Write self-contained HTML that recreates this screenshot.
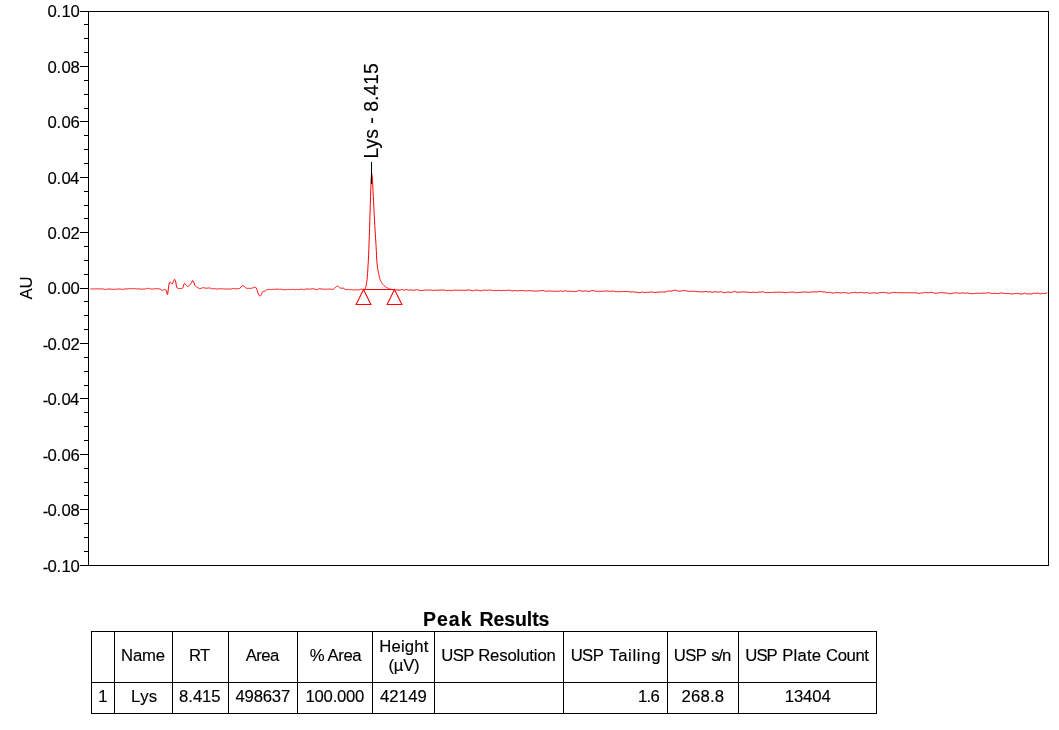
<!DOCTYPE html>
<html lang="en"><head><meta charset="utf-8"><title>Peak Results</title>
<style>
html,body{margin:0;padding:0;background:#fff;}
body{width:1059px;height:730px;position:relative;overflow:hidden;font-family:"Liberation Sans",sans-serif;}
svg text.t{font-family:"Liberation Sans",sans-serif;fill:#000;stroke:#000;}
</style></head><body>
<svg width="1059" height="730" viewBox="0 0 1059 730" style="position:absolute;left:0;top:0">
<g fill="#000" shape-rendering="crispEdges">
<rect x="88" y="11" width="961" height="1"/>
<rect x="88" y="565" width="961" height="1"/>
<rect x="88" y="11" width="1" height="555"/>
<rect x="1048" y="11" width="1" height="555"/>
<rect x="80" y="11" width="8" height="1"/>
<rect x="84" y="24" width="4" height="1"/>
<rect x="84" y="38" width="4" height="1"/>
<rect x="84" y="52" width="4" height="1"/>
<rect x="80" y="66" width="8" height="1"/>
<rect x="84" y="80" width="4" height="1"/>
<rect x="84" y="94" width="4" height="1"/>
<rect x="84" y="108" width="4" height="1"/>
<rect x="80" y="121" width="8" height="1"/>
<rect x="84" y="135" width="4" height="1"/>
<rect x="84" y="149" width="4" height="1"/>
<rect x="84" y="163" width="4" height="1"/>
<rect x="80" y="177" width="8" height="1"/>
<rect x="84" y="191" width="4" height="1"/>
<rect x="84" y="205" width="4" height="1"/>
<rect x="84" y="218" width="4" height="1"/>
<rect x="80" y="232" width="8" height="1"/>
<rect x="84" y="246" width="4" height="1"/>
<rect x="84" y="260" width="4" height="1"/>
<rect x="84" y="274" width="4" height="1"/>
<rect x="80" y="288" width="8" height="1"/>
<rect x="84" y="301" width="4" height="1"/>
<rect x="84" y="315" width="4" height="1"/>
<rect x="84" y="329" width="4" height="1"/>
<rect x="80" y="343" width="8" height="1"/>
<rect x="84" y="357" width="4" height="1"/>
<rect x="84" y="371" width="4" height="1"/>
<rect x="84" y="385" width="4" height="1"/>
<rect x="80" y="398" width="8" height="1"/>
<rect x="84" y="412" width="4" height="1"/>
<rect x="84" y="426" width="4" height="1"/>
<rect x="84" y="440" width="4" height="1"/>
<rect x="80" y="454" width="8" height="1"/>
<rect x="84" y="468" width="4" height="1"/>
<rect x="84" y="482" width="4" height="1"/>
<rect x="84" y="495" width="4" height="1"/>
<rect x="80" y="509" width="8" height="1"/>
<rect x="84" y="523" width="4" height="1"/>
<rect x="84" y="537" width="4" height="1"/>
<rect x="84" y="551" width="4" height="1"/>
<rect x="80" y="565" width="8" height="1"/>
</g>
<text class="t" font-size="16.7" fill="#000" stroke="#000" stroke-width="0.15" x="47.45 56.4 61.55 70.45" y="17">0.10</text>
<text class="t" font-size="16.7" fill="#000" stroke="#000" stroke-width="0.15" x="47.45 56.4 61.55 70.45" y="73">0.08</text>
<text class="t" font-size="16.7" fill="#000" stroke="#000" stroke-width="0.15" x="47.45 56.4 61.55 70.45" y="128">0.06</text>
<text class="t" font-size="16.7" fill="#000" stroke="#000" stroke-width="0.15" x="47.45 56.4 61.55 70.1" y="184">0.04</text>
<text class="t" font-size="16.7" fill="#000" stroke="#000" stroke-width="0.15" x="47.45 56.4 61.55 70.45" y="239">0.02</text>
<text class="t" font-size="16.7" fill="#000" stroke="#000" stroke-width="0.15" x="47.45 56.4 61.55 70.45" y="294">0.00</text>
<text class="t" font-size="16.7" fill="#000" stroke="#000" stroke-width="0.15" x="42.65" y="351.3">-</text>
<text class="t" font-size="16.7" fill="#000" stroke="#000" stroke-width="0.15" x="47.45 56.4 61.55 70.45" y="350">0.02</text>
<text class="t" font-size="16.7" fill="#000" stroke="#000" stroke-width="0.15" x="42.65" y="406.3">-</text>
<text class="t" font-size="16.7" fill="#000" stroke="#000" stroke-width="0.15" x="47.45 56.4 61.55 70.1" y="405">0.04</text>
<text class="t" font-size="16.7" fill="#000" stroke="#000" stroke-width="0.15" x="42.65" y="462.3">-</text>
<text class="t" font-size="16.7" fill="#000" stroke="#000" stroke-width="0.15" x="47.45 56.4 61.55 70.45" y="461">0.06</text>
<text class="t" font-size="16.7" fill="#000" stroke="#000" stroke-width="0.15" x="42.65" y="517.3">-</text>
<text class="t" font-size="16.7" fill="#000" stroke="#000" stroke-width="0.15" x="47.45 56.4 61.55 70.45" y="516">0.08</text>
<text class="t" font-size="16.7" fill="#000" stroke="#000" stroke-width="0.15" x="42.65" y="573.3">-</text>
<text class="t" font-size="16.7" fill="#000" stroke="#000" stroke-width="0.15" x="47.45 56.4 61.55 70.45" y="572">0.10</text>
<text class="t" font-size="16.7" letter-spacing="-0.166" fill="#000" stroke="#000" stroke-width="0.15" x="121.04" y="660.70">Name</text>
<text class="t" font-size="16.7" letter-spacing="-0.616" fill="#000" stroke="#000" stroke-width="0.15" x="188.91" y="660.70">RT</text>
<text class="t" font-size="16.7" letter-spacing="-0.611" fill="#000" stroke="#000" stroke-width="0.15" x="245.75" y="660.70">Area</text>
<text class="t" font-size="16.7" letter-spacing="-0.403" fill="#000" stroke="#000" stroke-width="0.15" x="309.87" y="660.70">% Area</text>
<text class="t" font-size="16.7" letter-spacing="0.147" fill="#000" stroke="#000" stroke-width="0.15" x="379.32" y="651.80">Height</text>
<text class="t" font-size="16.7" letter-spacing="-0.269" fill="#000" stroke="#000" stroke-width="0.15" x="388.52" y="670.90">(µV)</text>
<text class="t" font-size="16.7" letter-spacing="-0.564" fill="#000" stroke="#000" stroke-width="0.15" x="441.24" y="660.70">USP</text>
<text class="t" font-size="16.7" letter-spacing="-0.134" fill="#000" stroke="#000" stroke-width="0.15" x="478.21" y="660.70">Resolution</text>
<text class="t" font-size="16.7" letter-spacing="-0.564" fill="#000" stroke="#000" stroke-width="0.15" x="570.64" y="660.70">USP</text>
<text class="t" font-size="16.7" letter-spacing="0.659" fill="#000" stroke="#000" stroke-width="0.15" x="609.16" y="660.70">Tailing</text>
<text class="t" font-size="16.7" letter-spacing="-0.564" fill="#000" stroke="#000" stroke-width="0.15" x="673.74" y="660.70">USP</text>
<text class="t" font-size="16.7" letter-spacing="-1.040" fill="#000" stroke="#000" stroke-width="0.15" x="711.16" y="660.70">s/n</text>
<text class="t" font-size="16.7" letter-spacing="-0.964" fill="#000" stroke="#000" stroke-width="0.15" x="745.34" y="660.70">USP</text>
<text class="t" font-size="16.7" letter-spacing="0.186" fill="#000" stroke="#000" stroke-width="0.15" x="782.31" y="660.70">Plate</text>
<text class="t" font-size="16.7" letter-spacing="-0.385" fill="#000" stroke="#000" stroke-width="0.15" x="825.98" y="660.70">Count</text>
<text class="t" font-size="16.7" fill="#000" stroke="#000" stroke-width="0.15" x="98.24" y="701.90">1</text>
<text class="t" font-size="16.7" letter-spacing="0.377" fill="#000" stroke="#000" stroke-width="0.15" x="131.12" y="701.90">Lys</text>
<text class="t" font-size="16.7" letter-spacing="-0.064" fill="#000" stroke="#000" stroke-width="0.15" x="179.11" y="701.90">8.415</text>
<text class="t" font-size="16.7" letter-spacing="-0.175" fill="#000" stroke="#000" stroke-width="0.15" x="235.45" y="701.90">498637</text>
<text class="t" font-size="16.7" letter-spacing="-0.263" fill="#000" stroke="#000" stroke-width="0.15" x="305.59" y="701.90">100.000</text>
<text class="t" font-size="16.7" letter-spacing="0.120" fill="#000" stroke="#000" stroke-width="0.15" x="379.95" y="701.90">42149</text>
<text class="t" font-size="16.7" letter-spacing="-0.738" fill="#000" stroke="#000" stroke-width="0.15" x="638.09" y="701.90">1.6</text>
<text class="t" font-size="16.7" letter-spacing="0.184" fill="#000" stroke="#000" stroke-width="0.15" x="681.49" y="701.90">268.8</text>
<text class="t" font-size="16.7" letter-spacing="-0.081" fill="#000" stroke="#000" stroke-width="0.15" x="784.69" y="701.90">13404</text>
<text class="t" font-size="19.5" font-weight="bold" letter-spacing="1.000" fill="#000" stroke="#000" stroke-width="0.15" x="422.94" y="625.60">Peak</text>
<text class="t" font-size="19.5" font-weight="bold" letter-spacing="-0.090" fill="#000" stroke="#000" stroke-width="0.15" x="479.54" y="625.60">Results</text>
<text class="t" font-size="16.7" fill="#000" stroke="#000" stroke-width="0.15" text-anchor="middle" transform="translate(32.3,288.0) rotate(-90)">AU</text>
<text class="t" font-size="19.3" letter-spacing="0.06" fill="#000" stroke="#000" stroke-width="0.15" transform="translate(378.3,158.6) rotate(-90)">Lys - 8.415</text>
<path d="M90.30,288.90 L90.80,288.93 L91.30,288.97 L91.80,289.00 L92.30,289.04 L92.80,289.03 L93.30,289.01 L93.80,288.98 L94.30,288.95 L94.80,288.92 L95.30,288.88 L95.80,288.85 L96.30,288.82 L96.80,288.78 L97.30,288.81 L97.80,288.85 L98.30,288.88 L98.80,288.92 L99.30,288.93 L99.80,288.90 L100.30,288.86 L100.80,288.83 L101.30,288.79 L101.80,288.87 L102.30,288.96 L102.80,289.04 L103.30,289.12 L103.80,289.21 L104.30,289.30 L104.80,289.40 L105.30,289.50 L105.80,289.55 L106.30,289.42 L106.80,289.29 L107.30,289.16 L107.80,289.03 L108.30,289.00 L108.80,288.99 L109.30,288.98 L109.80,288.98 L110.30,289.01 L110.80,289.09 L111.30,289.17 L111.80,289.26 L112.30,289.34 L112.80,289.33 L113.30,289.32 L113.80,289.32 L114.30,289.31 L114.80,289.30 L115.30,289.28 L115.80,289.26 L116.30,289.24 L116.80,289.22 L117.30,289.14 L117.80,289.07 L118.30,288.99 L118.80,288.92 L119.30,288.95 L119.80,289.02 L120.30,289.09 L120.80,289.15 L121.30,289.21 L121.80,289.26 L122.30,289.31 L122.80,289.37 L123.30,289.42 L123.80,289.27 L124.30,289.12 L124.80,288.97 L125.30,288.82 L125.80,288.80 L126.30,288.86 L126.80,288.92 L127.30,288.98 L127.80,289.01 L128.30,288.90 L128.80,288.79 L129.30,288.69 L129.80,288.58 L130.30,288.59 L130.80,288.63 L131.30,288.67 L131.80,288.71 L132.30,288.72 L132.80,288.68 L133.30,288.63 L133.80,288.59 L134.30,288.55 L134.80,288.66 L135.30,288.77 L135.80,288.89 L136.30,289.00 L136.80,289.00 L137.30,288.92 L137.80,288.84 L138.30,288.76 L138.80,288.72 L139.30,288.83 L139.80,288.94 L140.30,289.05 L140.80,289.16 L141.30,289.17 L141.80,289.16 L142.30,289.15 L142.80,289.14 L143.30,289.12 L143.80,289.09 L144.30,289.06 L144.80,289.03 L145.30,289.00 L145.80,288.83 L146.30,288.65 L146.80,288.48 L147.30,288.30 L147.80,288.32 L148.30,288.46 L148.80,288.60 L149.30,288.74 L149.80,288.86 L150.30,288.89 L150.80,288.92 L151.30,288.95 L151.80,288.99 L152.30,289.00 L152.80,289.01 L153.30,289.02 L153.80,289.03 L154.30,288.99 L154.80,288.87 L155.30,288.75 L155.80,288.63 L156.30,288.51 L156.80,288.59 L157.30,288.66 L157.80,288.74 L158.30,288.84 L158.80,288.90 L159.30,288.93 L159.80,288.93 L160.30,289.14 L160.80,289.59 L161.30,290.06 L161.80,290.27 L162.30,290.24 L162.80,290.13 L163.30,290.01 L163.80,289.91 L164.30,289.72 L164.80,289.55 L165.30,289.51 L165.80,289.94 L166.30,290.70 L166.80,292.52 L167.30,294.54 L167.80,293.66 L168.30,289.10 L168.80,285.48 L169.30,282.90 L169.80,282.35 L170.30,282.20 L170.80,282.58 L171.30,283.34 L171.80,283.93 L172.30,283.77 L172.80,282.74 L173.30,281.60 L173.80,280.46 L174.30,279.51 L174.80,279.58 L175.30,280.50 L175.80,282.02 L176.30,285.75 L176.80,287.33 L177.30,288.06 L177.80,288.32 L178.30,288.40 L178.80,288.45 L179.30,288.50 L179.80,288.52 L180.30,288.52 L180.80,288.49 L181.30,288.48 L181.80,288.45 L182.30,288.42 L182.80,287.87 L183.30,286.20 L183.80,284.71 L184.30,283.54 L184.80,283.51 L185.30,284.00 L185.80,284.60 L186.30,285.14 L186.80,285.76 L187.30,286.31 L187.80,286.59 L188.30,286.40 L188.80,285.78 L189.30,285.05 L189.80,284.52 L190.30,284.15 L190.80,283.79 L191.30,283.30 L191.80,282.24 L192.30,280.96 L192.80,280.52 L193.30,281.14 L193.80,282.20 L194.30,284.05 L194.80,285.43 L195.30,285.98 L195.80,286.37 L196.30,286.66 L196.80,286.94 L197.30,287.25 L197.80,287.59 L198.30,287.93 L198.80,288.22 L199.30,288.44 L199.80,288.51 L200.30,288.48 L200.80,288.44 L201.30,288.38 L201.80,288.25 L202.30,287.91 L202.80,287.60 L203.30,287.53 L203.80,287.69 L204.30,287.93 L204.80,288.12 L205.30,288.15 L205.80,288.18 L206.30,288.21 L206.80,288.24 L207.30,288.19 L207.80,288.12 L208.30,288.05 L208.80,287.99 L209.30,287.98 L209.80,288.02 L210.30,288.09 L210.80,288.28 L211.30,288.55 L211.80,288.73 L212.30,288.84 L212.80,288.82 L213.30,288.75 L213.80,288.70 L214.30,288.70 L214.80,288.72 L215.30,288.77 L215.80,288.82 L216.30,288.89 L216.80,288.96 L217.30,289.02 L217.80,289.09 L218.30,289.00 L218.80,288.87 L219.30,288.74 L219.80,288.61 L220.30,288.57 L220.80,288.66 L221.30,288.75 L221.80,288.84 L222.30,288.92 L222.80,288.90 L223.30,288.88 L223.80,288.86 L224.30,288.84 L224.80,288.87 L225.30,288.94 L225.80,289.01 L226.30,289.08 L226.80,289.13 L227.30,289.08 L227.80,289.02 L228.30,288.96 L228.80,288.91 L229.30,288.98 L229.80,289.08 L230.30,289.14 L230.80,289.17 L231.30,289.00 L231.80,288.72 L232.30,288.54 L232.80,288.52 L233.30,288.51 L233.80,288.55 L234.30,288.61 L234.80,288.69 L235.30,288.76 L235.80,288.80 L236.30,288.82 L236.80,288.83 L237.30,288.85 L237.80,288.81 L238.30,288.58 L238.80,288.50 L239.30,288.49 L239.80,288.48 L240.30,288.02 L240.80,287.24 L241.30,286.58 L241.80,286.22 L242.30,285.95 L242.80,285.91 L243.30,285.98 L243.80,286.13 L244.30,286.32 L244.80,286.64 L245.30,287.34 L245.80,288.04 L246.30,288.30 L246.80,288.33 L247.30,288.32 L247.80,288.22 L248.30,288.24 L248.80,288.34 L249.30,288.39 L249.80,288.43 L250.30,288.46 L250.80,288.45 L251.30,288.34 L251.80,288.15 L252.30,287.95 L252.80,287.82 L253.30,287.75 L253.80,287.58 L254.30,287.42 L254.80,287.35 L255.30,287.31 L255.80,287.39 L256.30,288.17 L256.80,289.22 L257.30,290.73 L257.80,292.49 L258.30,293.91 L258.80,294.78 L259.30,295.52 L259.80,296.01 L260.30,296.04 L260.80,295.48 L261.30,294.70 L261.80,293.53 L262.30,292.17 L262.80,291.56 L263.30,291.44 L263.80,291.36 L264.30,291.29 L264.80,291.18 L265.30,290.93 L265.80,290.57 L266.30,290.19 L266.80,289.85 L267.30,289.63 L267.80,289.54 L268.30,289.46 L268.80,289.41 L269.30,289.41 L269.80,289.43 L270.30,289.47 L270.80,289.51 L271.30,289.47 L271.80,289.44 L272.30,289.40 L272.80,289.37 L273.30,289.36 L273.80,289.35 L274.30,289.35 L274.80,289.34 L275.30,289.31 L275.80,289.24 L276.30,289.18 L276.80,289.11 L277.30,289.04 L277.80,289.12 L278.30,289.20 L278.80,289.28 L279.30,289.36 L279.80,289.38 L280.30,289.35 L280.80,289.31 L281.30,289.28 L281.80,289.28 L282.30,289.40 L282.80,289.52 L283.30,289.63 L283.80,289.75 L284.30,289.74 L284.80,289.71 L285.30,289.67 L285.80,289.63 L286.30,289.59 L286.80,289.54 L287.30,289.49 L287.80,289.44 L288.30,289.39 L288.80,289.44 L289.30,289.49 L289.80,289.54 L290.30,289.59 L290.80,289.57 L291.30,289.50 L291.80,289.43 L292.30,289.35 L292.80,289.32 L293.30,289.42 L293.80,289.52 L294.30,289.63 L294.80,289.73 L295.30,289.69 L295.80,289.62 L296.30,289.54 L296.80,289.47 L297.30,289.44 L297.80,289.49 L298.30,289.54 L298.80,289.58 L299.30,289.63 L299.80,289.50 L300.30,289.37 L300.80,289.24 L301.30,289.12 L301.80,289.15 L302.30,289.28 L302.80,289.41 L303.30,289.54 L303.80,289.62 L304.30,289.49 L304.80,289.36 L305.30,289.22 L305.80,289.09 L306.30,289.05 L306.80,289.03 L307.30,289.01 L307.80,288.98 L308.30,288.98 L308.80,289.05 L309.30,289.10 L309.80,289.14 L310.30,289.16 L310.80,289.06 L311.30,288.95 L311.80,288.85 L312.30,288.77 L312.80,288.77 L313.30,288.84 L313.80,288.91 L314.30,288.99 L314.80,289.09 L315.30,289.24 L315.80,289.39 L316.30,289.55 L316.80,289.70 L317.30,289.56 L317.80,289.34 L318.30,289.12 L318.80,288.90 L319.30,288.78 L319.80,288.80 L320.30,288.82 L320.80,288.84 L321.30,288.86 L321.80,288.93 L322.30,288.99 L322.80,289.06 L323.30,289.12 L323.80,289.17 L324.30,289.19 L324.80,289.22 L325.30,289.24 L325.80,289.26 L326.30,289.21 L326.80,289.17 L327.30,289.13 L327.80,289.09 L328.30,289.09 L328.80,289.09 L329.30,289.10 L329.80,289.10 L330.30,289.14 L330.80,289.21 L331.30,289.28 L331.80,289.33 L332.30,289.32 L332.80,289.25 L333.30,289.21 L333.80,289.06 L334.30,288.62 L334.80,288.09 L335.30,287.57 L335.80,286.99 L336.30,286.60 L336.80,286.42 L337.30,286.28 L337.80,286.21 L338.30,286.30 L338.80,286.72 L339.30,287.20 L339.80,287.82 L340.30,288.12 L340.80,288.19 L341.30,288.23 L341.80,288.22 L342.30,288.19 L342.80,288.21 L343.30,288.27 L343.80,288.39 L344.30,288.68 L344.80,289.07 L345.30,289.43 L345.80,289.60 L346.30,289.58 L346.80,289.51 L347.30,289.40 L347.80,289.33 L348.30,289.45 L348.80,289.57 L349.30,289.69 L349.80,289.80 L350.30,289.76 L350.80,289.69 L351.30,289.63 L351.80,289.59 L352.30,289.67 L352.80,289.83 L353.30,289.97 L353.80,290.03 L354.30,290.02 L354.80,289.98 L355.30,289.92 L355.80,289.86 L356.30,289.80 L356.80,289.79 L357.30,289.81 L357.80,289.83 L358.30,289.85 L358.80,289.83 L359.30,289.68 L359.80,289.53 L360.30,289.38 L360.80,289.22 L361.30,289.21 L361.80,289.24 L362.30,289.26 L364.30,289.60 L364.55,289.50 L364.80,289.23 L365.05,288.81 L365.30,288.28 L365.55,287.67 L365.80,287.00 L366.05,286.12 L366.30,284.89 L366.55,283.36 L366.80,281.57 L367.05,279.49 L367.30,276.78 L367.55,273.50 L367.80,269.75 L368.05,265.62 L368.30,261.14 L368.55,255.81 L368.80,249.69 L369.05,242.99 L369.30,235.93 L369.55,228.74 L369.80,221.23 L370.05,213.00 L370.30,204.58 L370.55,196.52 L370.80,188.55 L371.05,181.00 L371.30,176.60 L371.55,173.79 L371.80,173.41 L372.05,175.28 L372.30,178.00 L372.55,181.44 L372.80,186.03 L373.05,191.25 L373.30,196.59 L373.55,201.55 L373.80,206.38 L374.05,211.28 L374.30,216.17 L374.55,220.95 L374.80,225.54 L375.05,229.84 L375.30,233.86 L375.55,237.76 L375.80,241.70 L376.05,245.87 L376.30,250.71 L376.55,255.77 L376.80,260.29 L377.05,263.53 L377.30,265.85 L377.55,267.75 L377.80,269.39 L378.05,270.87 L378.30,272.19 L378.55,273.39 L378.80,274.51 L379.05,275.62 L379.30,276.75 L379.55,277.78 L379.80,278.60 L380.05,279.30 L380.30,279.92 L380.55,280.48 L380.80,281.00 L381.05,281.49 L381.30,281.96 L381.55,282.41 L381.80,282.83 L382.05,283.22 L382.30,283.59 L382.55,283.93 L382.80,284.25 L383.05,284.56 L383.30,284.85 L383.55,285.13 L383.80,285.40 L384.05,285.65 L384.30,285.88 L384.55,286.10 L384.80,286.30 L385.05,286.49 L385.30,286.67 L385.55,286.84 L385.80,287.00 L386.05,287.16 L386.30,287.31 L386.55,287.45 L386.80,287.59 L387.05,287.72 L387.30,287.85 L387.55,287.98 L387.80,288.10 L388.05,288.22 L388.30,288.33 L388.55,288.45 L388.80,288.56 L389.05,288.66 L389.30,288.76 L389.55,288.85 L389.80,288.94 L390.05,289.02 L390.30,289.09 L390.55,289.16 L390.80,289.24 L391.05,289.31 L391.30,289.37 L391.55,289.44 L391.80,289.50 L392.05,289.55 L392.30,289.60 L392.55,289.64 L392.80,289.68 L393.05,289.71 L393.30,289.73 L393.55,289.76 L393.80,289.78 L394.05,289.80 L394.30,289.82 L394.55,289.84 L394.80,289.86 L395.05,289.87 L395.30,289.89 L395.55,289.89 L395.80,289.90 L400.00,290.12 L400.75,289.85 L401.50,289.58 L402.25,289.35 L403.00,289.67 L403.75,290.00 L404.50,290.25 L405.25,289.97 L406.00,289.69 L406.75,289.52 L407.50,289.80 L408.25,290.07 L409.00,290.23 L409.75,290.06 L410.50,289.89 L411.25,289.83 L412.00,290.02 L412.75,290.20 L413.50,290.28 L414.25,290.21 L415.00,290.15 L415.75,290.03 L416.50,289.85 L417.25,289.68 L418.00,289.76 L418.75,290.07 L419.50,290.37 L420.25,290.51 L421.00,290.54 L421.75,290.57 L422.50,290.47 L423.25,290.31 L424.00,290.16 L424.75,290.11 L425.50,290.09 L426.25,290.08 L427.00,290.09 L427.75,290.11 L428.50,290.13 L429.25,290.07 L430.00,289.99 L430.75,289.91 L431.50,290.12 L432.25,290.36 L433.00,290.59 L433.75,290.42 L434.50,290.25 L435.25,290.10 L436.00,290.16 L436.75,290.22 L437.50,290.26 L438.25,290.18 L439.00,290.11 L439.75,290.05 L440.50,290.07 L441.25,290.09 L442.00,290.09 L442.75,290.02 L443.50,289.95 L444.25,290.00 L445.00,290.28 L445.75,290.56 L446.50,290.66 L447.25,290.51 L448.00,290.36 L448.75,290.34 L449.50,290.46 L450.25,290.59 L451.00,290.59 L451.75,290.49 L452.50,290.38 L453.25,290.30 L454.00,290.22 L454.75,290.15 L455.50,290.15 L456.25,290.19 L457.00,290.23 L457.75,290.23 L458.50,290.20 L459.25,290.18 L460.00,290.22 L460.75,290.29 L461.50,290.35 L462.25,290.32 L463.00,290.28 L463.75,290.24 L464.50,290.25 L465.25,290.26 L466.00,290.27 L466.75,290.15 L467.50,290.03 L468.25,289.93 L469.00,289.99 L469.75,290.06 L470.50,290.15 L471.25,290.42 L472.00,290.69 L472.75,290.86 L473.50,290.60 L474.25,290.35 L475.00,290.16 L475.75,290.12 L476.50,290.08 L477.25,290.10 L478.00,290.26 L478.75,290.41 L479.50,290.55 L480.25,290.67 L481.00,290.79 L481.75,290.71 L482.50,290.40 L483.25,290.09 L484.00,290.03 L484.75,290.16 L485.50,290.30 L486.25,290.34 L487.00,290.29 L487.75,290.25 L488.50,290.16 L489.25,290.04 L490.00,289.92 L490.75,290.10 L491.50,290.37 L492.25,290.65 L493.00,290.64 L493.75,290.57 L494.50,290.49 L495.25,290.49 L496.00,290.51 L496.75,290.53 L497.50,290.45 L498.25,290.37 L499.00,290.28 L499.75,290.42 L500.50,290.56 L501.25,290.68 L502.00,290.58 L502.75,290.48 L503.50,290.39 L504.25,290.44 L505.00,290.49 L505.75,290.51 L506.50,290.42 L507.25,290.32 L508.00,290.24 L508.75,290.24 L509.50,290.23 L510.25,290.32 L511.00,290.61 L511.75,290.89 L512.50,290.99 L513.25,290.79 L514.00,290.60 L514.75,290.54 L515.50,290.63 L516.25,290.72 L517.00,290.75 L517.75,290.72 L518.50,290.69 L519.25,290.66 L520.00,290.62 L520.75,290.58 L521.50,290.57 L522.25,290.56 L523.00,290.56 L523.75,290.66 L524.50,290.79 L525.25,290.92 L526.00,290.87 L526.75,290.77 L527.50,290.67 L528.25,290.68 L529.00,290.70 L529.75,290.72 L530.50,290.75 L531.25,290.77 L532.00,290.80 L532.75,290.93 L533.50,291.06 L534.25,291.18 L535.00,291.13 L535.75,291.08 L536.50,291.04 L537.25,291.01 L538.00,290.98 L538.75,290.94 L539.50,290.84 L540.25,290.75 L541.00,290.65 L541.75,290.57 L542.50,290.49 L543.25,290.52 L544.00,290.78 L544.75,291.04 L545.50,291.20 L546.25,291.20 L547.00,291.21 L547.75,291.16 L548.50,291.05 L549.25,290.93 L550.00,290.92 L550.75,291.00 L551.50,291.08 L552.25,291.13 L553.00,291.16 L553.75,291.19 L554.50,291.21 L555.25,291.22 L556.00,291.23 L556.75,291.25 L557.50,291.26 L558.25,291.28 L559.00,291.17 L559.75,291.02 L560.50,290.88 L561.25,291.05 L562.00,291.27 L562.75,291.49 L563.50,291.23 L564.25,290.93 L565.00,290.64 L565.75,290.87 L566.50,291.11 L567.25,291.32 L568.00,291.29 L568.75,291.25 L569.50,291.23 L570.25,291.27 L571.00,291.32 L571.75,291.38 L572.50,291.49 L573.25,291.61 L574.00,291.68 L574.75,291.64 L575.50,291.61 L576.25,291.49 L577.00,291.20 L577.75,290.92 L578.50,290.73 L579.25,290.68 L580.00,290.62 L580.75,290.72 L581.50,291.00 L582.25,291.28 L583.00,291.31 L583.75,291.11 L584.50,290.92 L585.25,290.91 L586.00,291.02 L586.75,291.14 L587.50,291.24 L588.25,291.34 L589.00,291.44 L589.75,291.27 L590.50,291.01 L591.25,290.74 L592.00,290.65 L592.75,290.61 L593.50,290.57 L594.25,290.79 L595.00,291.06 L595.75,291.32 L596.50,291.32 L597.25,291.31 L598.00,291.29 L598.75,291.27 L599.50,291.25 L600.25,291.23 L601.00,291.27 L601.75,291.31 L602.50,291.33 L603.25,291.24 L604.00,291.16 L604.75,291.08 L605.50,291.02 L606.25,290.96 L607.00,290.96 L607.75,291.12 L608.50,291.28 L609.25,291.37 L610.00,291.30 L610.75,291.22 L611.50,291.16 L612.25,291.10 L613.00,291.04 L613.75,291.13 L614.50,291.38 L615.25,291.63 L616.00,291.72 L616.75,291.68 L617.50,291.63 L618.25,291.66 L619.00,291.73 L619.75,291.79 L620.50,291.73 L621.25,291.59 L622.00,291.46 L622.75,291.46 L623.50,291.52 L624.25,291.57 L625.00,291.56 L625.75,291.54 L626.50,291.52 L627.25,291.55 L628.00,291.58 L628.75,291.61 L629.50,291.75 L630.25,291.89 L631.00,292.02 L631.75,291.94 L632.50,291.86 L633.25,291.80 L634.00,291.94 L634.75,292.09 L635.50,292.22 L636.25,292.24 L637.00,292.26 L637.75,292.32 L638.50,292.52 L639.25,292.73 L640.00,292.78 L640.75,292.44 L641.50,292.09 L642.25,291.94 L643.00,292.20 L643.75,292.47 L644.50,292.59 L645.25,292.49 L646.00,292.40 L646.75,292.36 L647.50,292.37 L648.25,292.39 L649.00,292.31 L649.75,292.16 L650.50,292.00 L651.25,291.99 L652.00,292.09 L652.75,292.18 L653.50,292.29 L654.25,292.39 L655.00,292.50 L655.75,292.44 L656.50,292.32 L657.25,292.19 L658.00,292.15 L658.75,292.13 L659.50,292.11 L660.25,292.04 L661.00,291.96 L661.75,291.88 L662.50,291.98 L663.25,292.09 L664.00,292.20 L664.75,292.04 L665.50,291.88 L666.25,291.71 L667.00,291.44 L667.75,291.17 L668.50,290.95 L669.25,291.05 L670.00,291.14 L670.75,291.17 L671.50,290.99 L672.25,290.80 L673.00,290.61 L673.75,290.42 L674.50,290.23 L675.25,290.17 L676.00,290.40 L676.75,290.64 L677.50,290.86 L678.25,291.04 L679.00,291.22 L679.75,291.26 L680.50,291.12 L681.25,290.99 L682.00,290.86 L682.75,290.74 L683.50,290.62 L684.25,290.60 L685.00,290.65 L685.75,290.70 L686.50,290.88 L687.25,291.13 L688.00,291.38 L688.75,291.40 L689.50,291.33 L690.25,291.26 L691.00,291.26 L691.75,291.29 L692.50,291.31 L693.25,291.33 L694.00,291.36 L694.75,291.38 L695.50,291.42 L696.25,291.47 L697.00,291.51 L697.75,291.62 L698.50,291.73 L699.25,291.83 L700.00,291.82 L700.75,291.82 L701.50,291.81 L702.25,291.80 L703.00,291.79 L703.75,291.76 L704.50,291.65 L705.25,291.53 L706.00,291.50 L706.75,291.69 L707.50,291.88 L708.25,291.98 L709.00,291.87 L709.75,291.76 L710.50,291.79 L711.25,292.00 L712.00,292.21 L712.75,292.21 L713.50,291.97 L714.25,291.74 L715.00,291.70 L715.75,291.83 L716.50,291.97 L717.25,292.04 L718.00,292.06 L718.75,292.08 L719.50,292.00 L720.25,291.86 L721.00,291.72 L721.75,291.93 L722.50,292.26 L723.25,292.60 L724.00,292.65 L724.75,292.62 L725.50,292.60 L726.25,292.41 L727.00,292.20 L727.75,292.00 L728.50,292.11 L729.25,292.25 L730.00,292.39 L730.75,292.35 L731.50,292.30 L732.25,292.24 L733.00,291.92 L733.75,291.60 L734.50,291.36 L735.25,291.67 L736.00,291.98 L736.75,292.23 L737.50,292.20 L738.25,292.16 L739.00,292.15 L739.75,292.16 L740.50,292.18 L741.25,292.15 L742.00,292.02 L742.75,291.90 L743.50,291.86 L744.25,291.95 L745.00,292.04 L745.75,292.09 L746.50,292.10 L747.25,292.11 L748.00,292.20 L748.75,292.35 L749.50,292.50 L750.25,292.50 L751.00,292.41 L751.75,292.32 L752.50,292.27 L753.25,292.23 L754.00,292.20 L754.75,292.31 L755.50,292.48 L756.25,292.65 L757.00,292.50 L757.75,292.27 L758.50,292.05 L759.25,292.04 L760.00,292.06 L760.75,292.08 L761.50,291.93 L762.25,291.78 L763.00,291.63 L763.75,292.00 L764.50,292.37 L765.25,292.71 L766.00,292.65 L766.75,292.58 L767.50,292.53 L768.25,292.53 L769.00,292.52 L769.75,292.52 L770.50,292.49 L771.25,292.47 L772.00,292.43 L772.75,292.38 L773.50,292.32 L774.25,292.28 L775.00,292.30 L775.75,292.31 L776.50,292.30 L777.25,292.25 L778.00,292.20 L778.75,292.18 L779.50,292.19 L780.25,292.20 L781.00,292.22 L781.75,292.25 L782.50,292.28 L783.25,292.39 L784.00,292.55 L784.75,292.71 L785.50,292.69 L786.25,292.59 L787.00,292.49 L787.75,292.41 L788.50,292.35 L789.25,292.28 L790.00,292.22 L790.75,292.17 L791.50,292.11 L792.25,292.10 L793.00,292.10 L793.75,292.09 L794.50,292.32 L795.25,292.57 L796.00,292.81 L796.75,292.69 L797.50,292.57 L798.25,292.46 L799.00,292.41 L799.75,292.36 L800.50,292.31 L801.25,292.27 L802.00,292.21 L802.75,292.15 L803.50,292.06 L804.25,291.96 L805.00,291.92 L805.75,292.01 L806.50,292.10 L807.25,292.19 L808.00,292.27 L808.75,292.35 L809.50,292.34 L810.25,292.18 L811.00,292.02 L811.75,291.93 L812.50,291.93 L813.25,291.93 L814.00,291.91 L814.75,291.90 L815.50,291.88 L816.25,291.89 L817.00,291.91 L817.75,291.94 L818.50,291.82 L819.25,291.63 L820.00,291.44 L820.75,291.51 L821.50,291.68 L822.25,291.86 L823.00,291.88 L823.75,291.86 L824.50,291.86 L825.25,292.06 L826.00,292.30 L826.75,292.53 L827.50,292.45 L828.25,292.34 L829.00,292.21 L829.75,292.39 L830.50,292.57 L831.25,292.74 L832.00,292.88 L832.75,293.02 L833.50,293.12 L834.25,292.96 L835.00,292.80 L835.75,292.66 L836.50,292.65 L837.25,292.63 L838.00,292.63 L838.75,292.72 L839.50,292.80 L840.25,292.85 L841.00,292.83 L841.75,292.81 L842.50,292.75 L843.25,292.64 L844.00,292.53 L844.75,292.55 L845.50,292.71 L846.25,292.86 L847.00,293.03 L847.75,293.19 L848.50,293.36 L849.25,293.28 L850.00,293.03 L850.75,292.78 L851.50,292.70 L852.25,292.70 L853.00,292.70 L853.75,292.64 L854.50,292.54 L855.25,292.45 L856.00,292.55 L856.75,292.69 L857.50,292.84 L858.25,292.71 L859.00,292.53 L859.75,292.36 L860.50,292.36 L861.25,292.37 L862.00,292.39 L862.75,292.64 L863.50,292.90 L864.25,293.13 L865.00,292.88 L865.75,292.64 L866.50,292.46 L867.25,292.68 L868.00,292.89 L868.75,293.07 L869.50,293.12 L870.25,293.17 L871.00,293.16 L871.75,293.02 L872.50,292.88 L873.25,292.80 L874.00,292.83 L874.75,292.86 L875.50,292.94 L876.25,293.09 L877.00,293.24 L877.75,293.22 L878.50,292.98 L879.25,292.75 L880.00,292.61 L880.75,292.57 L881.50,292.53 L882.25,292.46 L883.00,292.38 L883.75,292.30 L884.50,292.37 L885.25,292.52 L886.00,292.68 L886.75,292.83 L887.50,292.99 L888.25,293.15 L889.00,293.13 L889.75,293.08 L890.50,293.02 L891.25,292.84 L892.00,292.63 L892.75,292.43 L893.50,292.42 L894.25,292.43 L895.00,292.44 L895.75,292.48 L896.50,292.52 L897.25,292.57 L898.00,292.66 L898.75,292.74 L899.50,292.81 L900.25,292.76 L901.00,292.71 L901.75,292.68 L902.50,292.73 L903.25,292.77 L904.00,292.81 L904.75,292.82 L905.50,292.84 L906.25,292.82 L907.00,292.76 L907.75,292.70 L908.50,292.67 L909.25,292.70 L910.00,292.73 L910.75,292.76 L911.50,292.79 L912.25,292.82 L913.00,292.82 L913.75,292.79 L914.50,292.76 L915.25,292.79 L916.00,292.86 L916.75,292.93 L917.50,293.05 L918.25,293.20 L919.00,293.35 L919.75,293.30 L920.50,293.16 L921.25,293.02 L922.00,292.95 L922.75,292.90 L923.50,292.84 L924.25,292.68 L925.00,292.49 L925.75,292.31 L926.50,292.51 L927.25,292.74 L928.00,292.98 L928.75,292.73 L929.50,292.48 L930.25,292.26 L931.00,292.32 L931.75,292.39 L932.50,292.48 L933.25,292.74 L934.00,292.99 L934.75,293.19 L935.50,293.19 L936.25,293.18 L937.00,293.15 L937.75,293.07 L938.50,292.98 L939.25,292.87 L940.00,292.71 L940.75,292.55 L941.50,292.52 L942.25,292.67 L943.00,292.83 L943.75,292.90 L944.50,292.87 L945.25,292.85 L946.00,292.92 L946.75,293.07 L947.50,293.22 L948.25,293.40 L949.00,293.58 L949.75,293.77 L950.50,293.69 L951.25,293.47 L952.00,293.26 L952.75,293.13 L953.50,293.03 L954.25,292.93 L955.00,292.88 L955.75,292.84 L956.50,292.80 L957.25,292.91 L958.00,293.04 L958.75,293.17 L959.50,293.17 L960.25,293.16 L961.00,293.15 L961.75,293.05 L962.50,292.95 L963.25,292.86 L964.00,293.00 L964.75,293.15 L965.50,293.25 L966.25,293.12 L967.00,292.98 L967.75,292.92 L968.50,293.17 L969.25,293.42 L970.00,293.61 L970.75,293.60 L971.50,293.60 L972.25,293.60 L973.00,293.61 L973.75,293.61 L974.50,293.55 L975.25,293.38 L976.00,293.21 L976.75,293.18 L977.50,293.29 L978.25,293.40 L979.00,293.41 L979.75,293.35 L980.50,293.28 L981.25,293.24 L982.00,293.21 L982.75,293.19 L983.50,293.18 L984.25,293.19 L985.00,293.20 L985.75,293.13 L986.50,293.03 L987.25,292.92 L988.00,292.89 L988.75,292.88 L989.50,292.87 L990.25,293.08 L991.00,293.33 L991.75,293.58 L992.50,293.50 L993.25,293.40 L994.00,293.29 L994.75,293.34 L995.50,293.39 L996.25,293.45 L997.00,293.54 L997.75,293.63 L998.50,293.67 L999.25,293.38 L1000.00,293.08 L1000.75,292.88 L1001.50,292.99 L1002.25,293.10 L1003.00,293.22 L1003.75,293.34 L1004.50,293.46 L1005.25,293.56 L1006.00,293.60 L1006.75,293.64 L1007.50,293.64 L1008.25,293.58 L1009.00,293.52 L1009.75,293.57 L1010.50,293.74 L1011.25,293.91 L1012.00,293.95 L1012.75,293.89 L1013.50,293.82 L1014.25,293.70 L1015.00,293.57 L1015.75,293.42 L1016.50,293.41 L1017.25,293.45 L1018.00,293.48 L1018.75,293.64 L1019.50,293.83 L1020.25,294.02 L1021.00,294.02 L1021.75,293.98 L1022.50,293.93 L1023.25,293.69 L1024.00,293.42 L1024.75,293.15 L1025.50,293.44 L1026.25,293.76 L1027.00,294.09 L1027.75,293.98 L1028.50,293.88 L1029.25,293.78 L1030.00,293.83 L1030.75,293.89 L1031.50,293.90 L1032.25,293.69 L1033.00,293.48 L1033.75,293.32 L1034.50,293.30 L1035.25,293.29 L1036.00,293.26 L1036.75,293.15 L1037.50,293.04 L1038.25,293.09 L1039.00,293.47 L1039.75,293.85 L1040.50,293.95 L1041.25,293.64 L1042.00,293.33 L1042.75,293.24 L1043.50,293.42 L1044.25,293.59 L1045.00,293.53 L1045.75,293.27 L1046.50,293.01 L1047.25,292.95" fill="none" stroke="#ff0000" stroke-width="1" stroke-linejoin="round"/>
<g fill="none" stroke="#ff0000" stroke-width="1.05">
<path d="M363.5,289.5 L394.5,289.5"/>
<path d="M363.5,289.5 L356.1,304.4 L370.9,304.4 Z"/>
<path d="M394.5,289.5 L387.1,304.4 L401.9,304.4 Z"/>
</g>
<rect x="371" y="162" width="1" height="22" fill="#000" shape-rendering="crispEdges"/>
<g fill="#000" shape-rendering="crispEdges">
<rect x="91" y="631" width="786" height="1"/>
<rect x="91" y="682" width="786" height="1"/>
<rect x="91" y="713" width="786" height="1"/>
<rect x="91" y="631" width="1" height="83"/>
<rect x="114" y="631" width="1" height="83"/>
<rect x="172" y="631" width="1" height="83"/>
<rect x="228" y="631" width="1" height="83"/>
<rect x="297" y="631" width="1" height="83"/>
<rect x="372" y="631" width="1" height="83"/>
<rect x="434" y="631" width="1" height="83"/>
<rect x="563" y="631" width="1" height="83"/>
<rect x="667" y="631" width="1" height="83"/>
<rect x="738" y="631" width="1" height="83"/>
<rect x="876" y="631" width="1" height="83"/>
</g>
</svg>
</body></html>
